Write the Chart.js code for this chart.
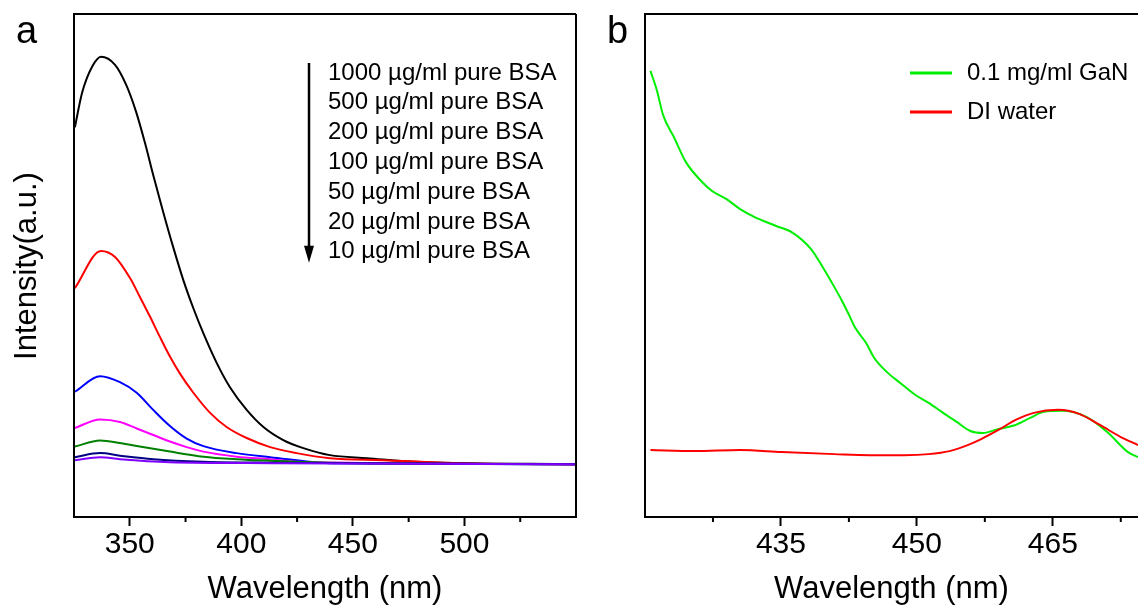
<!DOCTYPE html>
<html>
<head>
<script src="https://cdn.jsdelivr.net/npm/chart.js@4.4.1/dist/chart.umd.min.js"></script>
<title>BSA / GaN emission spectra</title>
<style>
  body { margin: 0; background: #fff; overflow: hidden; }
  .panel { position: absolute; top: 0; height: 609px; }
  #boxA { left: 0; width: 590px; }
  #boxB { left: 590px; width: 548px; }
</style>
</head>
<body>
<div class="panel" id="boxA"><canvas id="chartA"></canvas></div>
<div class="panel" id="boxB"><canvas id="chartB"></canvas></div>

<script>
// ---- panel a : BSA solutions ----
const majorA = [350, 400, 450, 500];
const minorA = [375, 425, 475, 525];

const bsa1000X = [325.4, 328.6, 333.1, 337.1, 343.4, 348.3, 352.8, 356.8, 360.5, 365.0, 369.5, 374.0, 378.5, 383.0, 389.0, 394.9, 402.4, 409.9, 418.8, 427.8, 439.7, 456.3, 480.5, 549.5];
const bsa1000Y = [77.5, 84.3, 89.5, 91.5, 89.9, 86.0, 80.6, 74.4, 68.0, 60.6, 53.6, 47.1, 41.5, 36.5, 30.6, 25.8, 21.3, 17.9, 15.3, 13.7, 12.3, 11.7, 10.9, 10.5];

const bsa500X = [325.4, 337.1, 343.4, 350.1, 354.6, 359.1, 363.5, 368.0, 372.5, 378.5, 386.0, 393.4, 402.4, 412.9, 424.8, 439.7, 463.5, 497.6, 549.5];
const bsa500Y = [45.5, 52.9, 51.7, 47.5, 43.7, 39.8, 35.8, 31.9, 28.5, 24.7, 20.7, 17.9, 15.7, 13.9, 12.7, 11.7, 11.3, 10.7, 10.5];

const bsa200X = [325.4, 336.7, 345.6, 353.1, 360.5, 368.0, 375.5, 383.0, 397.9, 412.9, 439.7, 549.5];
const bsa200Y = [24.9, 28.0, 26.8, 24.7, 21.3, 18.1, 15.6, 14.1, 12.7, 11.9, 10.7, 10.5];

const bsa100X = [325.4, 336.7, 345.6, 353.1, 360.5, 368.0, 375.5, 383.0, 397.9, 412.9, 424.8, 549.5];
const bsa100Y = [17.7, 19.4, 18.9, 17.6, 16.3, 15.0, 13.9, 13.0, 12.0, 11.5, 11.0, 10.5];

const bsa50X = [325.4, 336.7, 345.6, 353.1, 368.0, 383.0, 397.9, 412.9, 440.0, 549.5];
const bsa50Y = [14.0, 15.2, 14.7, 14.1, 13.0, 12.0, 11.5, 11.2, 10.8, 10.5];

const bsa20X = [325.4, 336.7, 345.6, 360.5, 383.0, 412.9, 549.5];
const bsa20Y = [11.9, 12.7, 12.2, 11.5, 11.0, 10.8, 10.5];

const bsa10X = [325.4, 336.7, 345.6, 368.0, 412.9, 549.5];
const bsa10Y = [11.3, 11.9, 11.5, 10.9, 10.7, 10.5];

const labelsA = ['1000 µg/ml pure BSA', '500 µg/ml pure BSA', '200 µg/ml pure BSA', '100 µg/ml pure BSA',
                 '50 µg/ml pure BSA', '20 µg/ml pure BSA', '10 µg/ml pure BSA'];
const colorsA = ['#000000', '#ff0000', '#0000ff', '#ff00ff', '#008000', '#000080', '#7f00ff'];

// ---- panel b : GaN vs DI water ----
const majorB = [435, 450, 465];
const minorB = [427.5, 442.5, 457.5, 472.5];

const ganX = [420.6, 421.3, 422.0, 423.2, 424.5, 426.3, 427.4, 429.0, 430.5, 432.1, 434.4, 436.3, 438.3, 439.6, 440.9, 441.7, 442.4, 443.2, 444.4, 445.3, 446.7, 448.2, 449.8, 451.3, 452.9, 454.4, 455.9, 457.3, 459.0, 460.9, 462.5, 464.0, 466.0, 468.7, 471.0, 473.3, 474.4];
const ganY = [88.7, 84.9, 79.9, 75.5, 70.6, 66.6, 64.8, 63.2, 61.2, 59.6, 57.9, 56.5, 53.3, 49.7, 45.7, 43.1, 40.6, 37.6, 34.6, 31.6, 28.8, 26.6, 24.3, 22.7, 20.7, 18.9, 17.1, 16.7, 17.5, 18.3, 19.7, 20.9, 21.1, 19.9, 16.9, 12.9, 11.9];

const waterX = [420.6, 425.5, 430.5, 435.1, 440.9, 444.8, 448.6, 451.3, 453.6, 455.6, 457.1, 459.0, 460.9, 462.9, 465.6, 467.9, 470.2, 472.5, 474.4];
const waterY = [13.3, 13.1, 13.3, 12.9, 12.5, 12.3, 12.3, 12.5, 13.1, 14.3, 15.5, 17.3, 19.3, 20.7, 21.3, 20.5, 18.3, 15.9, 14.3];

const labelsB = ['0.1 mg/ml GaN', 'DI water'];
const colorsB = ['#00ee00', '#ff0000'];

Chart.defaults.font.family = '"Liberation Sans", Arial, sans-serif';
Chart.defaults.color = '#000';

function pts(xs, ys) {
  return xs.map((x, i) => ({ x: x, y: ys[i] }));
}

function series(label, xs, ys, color, order) {
  return {
    label: label,
    data: pts(xs, ys),
    borderColor: color,
    borderWidth: 2,
    pointRadius: 0,
    cubicInterpolationMode: 'monotone',
    order: order
  };
}

// frame, minor ticks and the loose text of each panel
const decorPlugin = {
  id: 'decor',
  afterDatasetsDraw(chart, args, opts) {
    const ctx = chart.ctx;
    const a = chart.chartArea;
    const xs = chart.scales.x;
    ctx.save();
    ctx.strokeStyle = '#000';
    ctx.lineWidth = 2;
    ctx.beginPath();
    ctx.moveTo(a.right, a.top);
    ctx.lineTo(a.left, a.top);
    ctx.lineTo(a.left, a.bottom);
    ctx.lineTo(a.right, a.bottom);
    if (opts.rightEdge) ctx.lineTo(a.right, a.top);
    opts.minor.forEach(v => {
      const px = xs.getPixelForValue(v);
      ctx.moveTo(px, a.bottom);
      ctx.lineTo(px, a.bottom + 5);
    });
    ctx.stroke();

    ctx.fillStyle = '#000';
    ctx.font = '38px "Liberation Sans", Arial, sans-serif';
    ctx.textBaseline = 'alphabetic';
    ctx.fillText(opts.letter, opts.letterX, 43);

    if (opts.yTitle) {
      ctx.save();
      ctx.translate(36, 266);
      ctx.rotate(-Math.PI / 2);
      ctx.font = '31px "Liberation Sans", Arial, sans-serif';
      ctx.textAlign = 'center';
      ctx.fillText(opts.yTitle, 0, 0);
      ctx.restore();
    }

    ctx.font = '24px "Liberation Sans", Arial, sans-serif';
    ctx.textBaseline = 'middle';
    ctx.textAlign = 'left';
    const lg = opts.legend;
    if (lg.arrow) {
      // downward arrow beside the concentration list
      ctx.lineWidth = 2.5;
      ctx.beginPath();
      ctx.moveTo(lg.arrowX, lg.top - 10);
      ctx.lineTo(lg.arrowX, lg.top + lg.step * 6 - 4);
      ctx.stroke();
      ctx.beginPath();
      ctx.moveTo(lg.arrowX - 5, lg.top + lg.step * 6 - 6);
      ctx.lineTo(lg.arrowX + 5, lg.top + lg.step * 6 - 6);
      ctx.lineTo(lg.arrowX, lg.top + lg.step * 6 + 11);
      ctx.closePath();
      ctx.fill();
      chart.data.datasets.forEach((ds, i) => {
        ctx.fillText(ds.label, lg.textX, lg.top + i * lg.step);
      });
    } else {
      ctx.lineWidth = 3;
      chart.data.datasets.forEach((ds, i) => {
        const y = lg.top + i * lg.step;
        ctx.strokeStyle = ds.borderColor;
        ctx.beginPath();
        ctx.moveTo(lg.sampleX, y);
        ctx.lineTo(lg.sampleX + 42, y);
        ctx.stroke();
        ctx.fillText(ds.label, lg.textX, y);
      });
    }
    ctx.restore();
  }
};

function xAxis(min, max, major, height) {
  return {
    type: 'linear',
    min: min,
    max: max,
    afterBuildTicks(s) { s.ticks = major.map(v => ({ value: v })); },
    afterFit(s) { s.height = height; },
    ticks: { font: { size: 30 }, color: '#000', padding: 1, maxRotation: 0, autoSkip: false },
    grid: { display: true, drawOnChartArea: false, drawTicks: true, tickLength: 9, tickWidth: 2, tickColor: '#000' },
    border: { display: false },
    title: { display: true, text: 'Wavelength (nm)', font: { size: 31 }, color: '#000', padding: { top: 0, bottom: 1 } }
  };
}

function yAxis(width) {
  return {
    min: 0,
    max: 100,
    afterFit(s) { s.width = width; },
    ticks: { display: false },
    grid: { display: false },
    border: { display: false }
  };
}

const xsA = [bsa1000X, bsa500X, bsa200X, bsa100X, bsa50X, bsa20X, bsa10X];
const ysA = [bsa1000Y, bsa500Y, bsa200Y, bsa100Y, bsa50Y, bsa20Y, bsa10Y];

new Chart(document.getElementById('chartA'), {
  type: 'line',
  data: {
    datasets: labelsA.map((lab, i) => series(lab, xsA[i], ysA[i], colorsA[i], labelsA.length - i))
  },
  options: {
    responsive: true,
    maintainAspectRatio: false,
    animation: false,
    layout: { padding: { top: 14, right: 14, left: 0, bottom: 0 } },
    scales: { x: xAxis(325, 550, majorA, 92), y: yAxis(74) },
    plugins: {
      legend: { display: false },
      tooltip: { enabled: false },
      decor: {
        letter: 'a', letterX: 16, rightEdge: true, minor: minorA,
        yTitle: 'Intensity(a.u.)',
        legend: { arrow: true, arrowX: 309, textX: 328, top: 73, step: 29.8 }
      }
    }
  },
  plugins: [decorPlugin]
});

new Chart(document.getElementById('chartB'), {
  type: 'line',
  data: {
    datasets: [
      series(labelsB[0], ganX, ganY, colorsB[0], 2),
      series(labelsB[1], waterX, waterY, colorsB[1], 1)
    ]
  },
  options: {
    responsive: true,
    maintainAspectRatio: false,
    animation: false,
    layout: { padding: { top: 14, right: 0, left: 0, bottom: 0 } },
    scales: { x: xAxis(420, 474.4, majorB, 92), y: yAxis(55) },
    plugins: {
      legend: { display: false },
      tooltip: { enabled: false },
      decor: {
        letter: 'b', letterX: 17, rightEdge: false, minor: minorB,
        legend: { arrow: false, sampleX: 320, textX: 377, top: 73, step: 39 }
      }
    }
  },
  plugins: [decorPlugin]
});
</script>
</body>
</html>
